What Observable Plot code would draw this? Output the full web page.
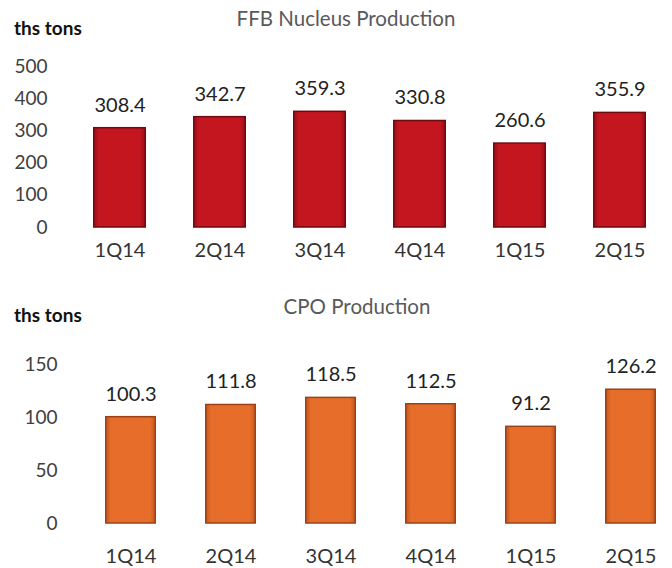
<!DOCTYPE html>
<html>
<head>
<meta charset="utf-8">
<script src="https://cdn.jsdelivr.net/npm/d3@7"></script>
<script src="https://cdn.jsdelivr.net/npm/@observablehq/plot@0.6"></script>
<style>
  html, body { margin: 0; padding: 0; background: #fff; }
  #wrap { position: relative; width: 672px; height: 568px; font-family: Lato, "Open Sans", sans-serif; }
  .unit { position: absolute; font-weight: bold; font-size: 19px; color: #111; }
  .title { position: absolute; font-size: 20.5px; color: #595959; transform: translateX(-50%); white-space: nowrap; }
  .panel { position: absolute; left: 0; }
</style>
</head>
<body>
<div id="wrap">
  <div class="unit" style="left:14px; top:16px;">ths tons</div>
  <div class="title" style="left:346px; top:6px;">FFB Nucleus Production</div>
  <div class="unit" style="left:14px; top:303px;">ths tons</div>
  <div class="title" style="left:357px; top:294px;">CPO Production</div>
  <div class="panel" id="top" style="top:0px;"></div>
  <div class="panel" id="bottom" style="top:284px;"></div>
</div>
<script>
const quarters = ["1Q14", "2Q14", "3Q14", "4Q14", "1Q15", "2Q15"];
const ffbValues = [308.4, 342.7, 359.3, 330.8, 260.6, 355.9];
const cpoValues = [100.3, 111.8, 118.5, 112.5, 91.2, 126.2];
const ffbTicks = [0, 100, 200, 300, 400, 500];
const cpoTicks = [0, 50, 100, 150];

const ffb = quarters.map((q, i) => ({q, v: ffbValues[i]}));
const cpo = quarters.map((q, i) => ({q, v: cpoValues[i]}));

function panel(data, ticks, opts) {
  const svg = Plot.plot({
    width: 672,
    height: opts.height,
    marginLeft: opts.marginLeft,
    marginRight: opts.marginRight,
    marginTop: opts.marginTop,
    marginBottom: opts.marginBottom,
    style: {fontFamily: "Lato, 'Open Sans', sans-serif", background: "transparent", overflow: "visible"},
    x: {domain: quarters, paddingInner: opts.paddingInner, paddingOuter: 0, label: null},
    y: {domain: [0, ticks[ticks.length - 1]], label: null},
    marks: [
      Plot.axisY({ticks, tickSize: 0, tickPadding: opts.yPad, fontSize: 19, fill: "#404040", label: null}),
      Plot.axisX({tickSize: 0, tickPadding: opts.xPad, fontSize: 20, fill: "#333", label: null}),
      Plot.barY(data, {x: "q", y: "v", fill: `url(#${opts.id})`, stroke: opts.stroke, strokeWidth: 1.5, insetLeft: 0.75, insetRight: 0.75}),
      Plot.text(data, {x: "q", y: "v", text: d => d.v.toFixed(1), dy: -23, fontSize: 20, fill: "#222", lineAnchor: "middle"})
    ]
  });
  const defs = d3.select(svg).insert("defs", ":first-child");
  const g = defs.append("linearGradient").attr("id", opts.id).attr("x1", 0).attr("x2", 1).attr("y1", 0).attr("y2", 0);
  [[0, opts.edge], [0.1, opts.fill], [0.9, opts.fill], [1, opts.edge]].forEach(([o, c]) =>
    g.append("stop").attr("offset", o).attr("stop-color", c));
  return svg;
}

document.getElementById("top").appendChild(panel(ffb, ffbTicks, {
  id: "gRed", height: 270, marginLeft: 93, marginRight: 26, marginTop: 66, marginBottom: 43,
  paddingInner: 0.47, yPad: 46, xPad: 15, fill: "#c3161f", edge: "#9a0e16", stroke: "#6e0a10"
}));
document.getElementById("bottom").appendChild(panel(cpo, cpoTicks, {
  id: "gOrange", height: 284, marginLeft: 105, marginRight: 16, marginTop: 80, marginBottom: 45,
  paddingInner: 0.49, yPad: 48, xPad: 25, fill: "#e66d2a", edge: "#c4541c", stroke: "#9a4317"
}));
</script>
</body>
</html>
